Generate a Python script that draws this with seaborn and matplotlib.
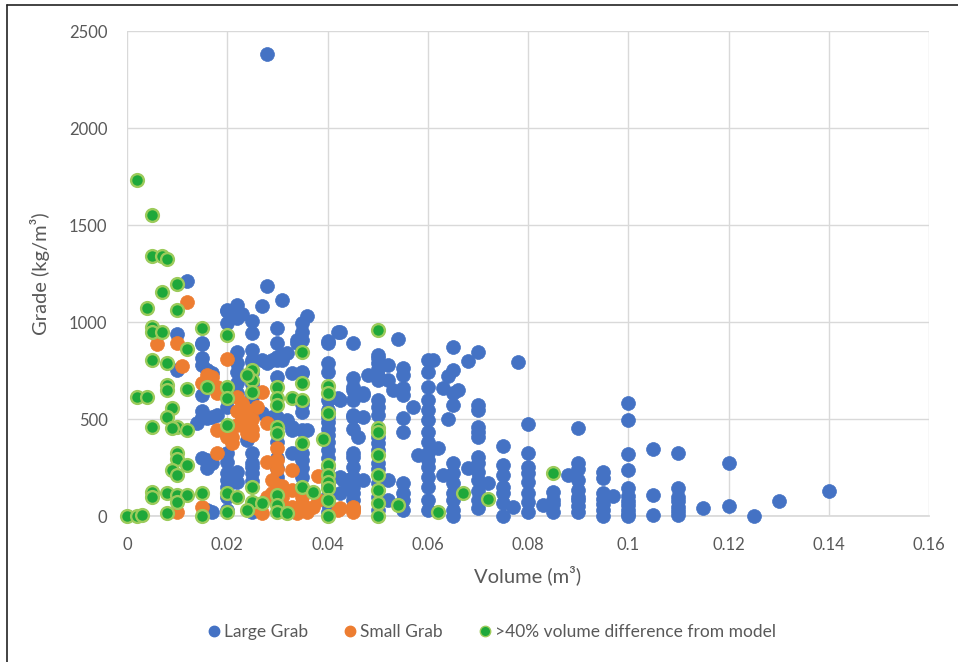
import matplotlib
matplotlib.use('Agg')
import matplotlib.pyplot as plt
import seaborn as sns
import pandas as pd
from matplotlib.lines import Line2D

# Volume (m3), Grade (kg/m3) pairs
large_grab = [
    (0.028, 2380), (0.14, 130), (0.13, 80), (0.125, 0), (0.12, 273), (0.12, 53), (0.115, 41),
    (0.11, 326), (0.11, 144), (0.11, 100), (0.11, 75), (0.11, 48), (0.11, 25), (0.11, 5),
    (0.105, 345), (0.105, 108), (0.105, 5),
    (0.1, 584), (0.1, 495), (0.1, 320), (0.1, 237), (0.1, 144), (0.1, 105), (0.1, 80), (0.1, 55), (0.1, 30), (0.1, 10), (0.1, 0),
    (0.097, 105),
    (0.095, 228), (0.095, 196), (0.095, 118), (0.095, 90), (0.095, 60), (0.095, 30), (0.095, 0),
    (0.09, 453), (0.09, 275), (0.09, 240), (0.09, 185), (0.09, 134), (0.09, 100), (0.09, 82), (0.09, 50), (0.09, 22),
    (0.088, 211),
    (0.085, 125), (0.085, 82), (0.085, 60), (0.085, 22), (0.083, 57),
    (0.08, 474), (0.08, 326), (0.08, 254), (0.08, 220), (0.08, 177), (0.08, 117), (0.08, 74), (0.08, 22),
    (0.078, 796), (0.077, 48),
    (0.075, 361), (0.075, 263), (0.075, 211), (0.075, 150), (0.075, 118), (0.075, 67), (0.075, 0),
    (0.072, 170),
    (0.07, 847), (0.07, 572), (0.07, 546), (0.07, 460), (0.07, 435), (0.07, 409), (0.07, 306), (0.07, 271),
    (0.07, 228), (0.07, 185), (0.07, 130), (0.07, 82), (0.07, 41),
    (0.068, 800), (0.068, 247), (0.066, 650),
    (0.065, 873), (0.065, 753), (0.065, 634), (0.065, 572), (0.065, 272), (0.065, 221), (0.065, 170),
    (0.065, 120), (0.065, 82), (0.065, 31), (0.065, 0),
    (0.064, 722), (0.064, 500), (0.063, 658), (0.063, 211), (0.062, 349), (0.061, 804),
    (0.06, 804), (0.06, 744), (0.06, 667), (0.06, 598), (0.06, 546), (0.06, 495), (0.06, 435), (0.06, 380),
    (0.06, 325), (0.06, 290), (0.06, 254), (0.06, 203), (0.06, 151), (0.06, 82), (0.06, 31),
    (0.058, 314), (0.057, 564),
    (0.055, 761), (0.055, 727), (0.055, 660), (0.055, 624), (0.055, 505), (0.055, 433), (0.055, 170),
    (0.055, 120), (0.055, 82), (0.055, 31),
    (0.054, 911), (0.053, 650), (0.052, 778), (0.052, 701), (0.052, 185), (0.052, 82),
    (0.05, 830), (0.05, 813), (0.05, 787), (0.05, 760), (0.05, 720), (0.05, 701), (0.05, 598), (0.05, 560),
    (0.05, 521), (0.05, 409), (0.05, 375), (0.05, 340), (0.05, 273), (0.05, 240), (0.05, 170), (0.05, 100), (0.05, 30),
    (0.048, 727), (0.047, 632), (0.047, 624), (0.047, 512), (0.047, 185), (0.046, 409),
    (0.045, 890), (0.045, 710), (0.045, 667), (0.045, 650), (0.045, 600), (0.045, 521), (0.045, 512), (0.045, 450),
    (0.045, 323), (0.045, 306), (0.045, 254), (0.045, 203), (0.045, 151), (0.045, 118), (0.045, 82), (0.045, 40),
    (0.044, 185), (0.044, 151), (0.043, 185),
    (0.0425, 947), (0.0425, 598), (0.0425, 203), (0.0425, 118),
    (0.042, 950), (0.042, 607),
    (0.04, 902), (0.04, 890), (0.04, 787), (0.04, 744), (0.04, 598), (0.04, 546), (0.04, 512), (0.04, 486),
    (0.04, 450), (0.04, 420), (0.04, 380), (0.04, 340), (0.04, 300), (0.04, 254), (0.04, 200), (0.04, 160),
    (0.04, 110), (0.04, 60), (0.04, 20),
    (0.036, 1032), (0.036, 443),
    (0.035, 993), (0.035, 950), (0.035, 907), (0.035, 744), (0.035, 735), (0.035, 580), (0.035, 538), (0.035, 443),
    (0.035, 323), (0.035, 289), (0.035, 250), (0.035, 200),
    (0.034, 907), (0.034, 890), (0.034, 323),
    (0.033, 735), (0.033, 460), (0.033, 443), (0.033, 323),
    (0.032, 839), (0.032, 495),
    (0.031, 1113), (0.031, 830), (0.031, 804),
    (0.03, 971), (0.03, 890), (0.03, 821), (0.03, 804), (0.03, 718), (0.03, 512), (0.03, 380), (0.03, 300),
    (0.03, 250), (0.03, 200),
    (0.029, 804), (0.029, 512), (0.028, 1186), (0.028, 789),
    (0.027, 1084), (0.027, 804), (0.027, 529),
    (0.025, 1007), (0.025, 942), (0.025, 856), (0.025, 804), (0.025, 793), (0.025, 735), (0.025, 680), (0.025, 632),
    (0.025, 615), (0.025, 529), (0.025, 323), (0.025, 271), (0.025, 254), (0.025, 220), (0.025, 180), (0.025, 60), (0.025, 20),
    (0.024, 392), (0.023, 1041),
    (0.022, 1088), (0.022, 1019), (0.022, 847), (0.022, 787), (0.022, 744), (0.022, 684), (0.022, 632), (0.022, 228), (0.022, 177),
    (0.02, 1062), (0.02, 1058), (0.02, 993), (0.02, 560), (0.02, 420), (0.02, 323), (0.02, 280), (0.02, 220),
    (0.02, 185), (0.02, 151), (0.02, 100), (0.02, 31),
    (0.018, 521), (0.017, 735), (0.017, 512), (0.017, 271), (0.017, 22),
    (0.016, 753), (0.016, 504), (0.016, 289), (0.016, 246), (0.016, 31),
    (0.015, 890), (0.015, 885), (0.015, 813), (0.015, 778), (0.015, 624), (0.015, 540), (0.015, 512), (0.015, 297),
    (0.014, 478), (0.012, 1213), (0.01, 937), (0.01, 753),
]

small_grab = [
    (0.012, 1104), (0.006, 887), (0.01, 890), (0.011, 773), (0.015, 684), (0.016, 727), (0.017, 718), (0.018, 667),
    (0.018, 632), (0.02, 809), (0.022, 615), (0.023, 581), (0.024, 546), (0.024, 495), (0.023, 469), (0.018, 443),
    (0.02, 409), (0.021, 409), (0.021, 375), (0.018, 323), (0.023, 512), (0.025, 418), (0.028, 478), (0.03, 349),
    (0.03, 289), (0.028, 280), (0.029, 185), (0.031, 155), (0.033, 134), (0.031, 98), (0.031, 57), (0.033, 46),
    (0.035, 67), (0.037, 46), (0.038, 82), (0.04, 82), (0.042, 31), (0.045, 31), (0.038, 206), (0.033, 237),
    (0.034, 15), (0.027, 15), (0.036, 20), (0.045, 48), (0.0425, 40), (0.045, 22), (0.015, 48), (0.01, 19),
    (0.027, 641), (0.026, 560), (0.025, 450), (0.029, 120), (0.032, 30), (0.03, 160), (0.026, 40), (0.028, 100),
    (0.022, 540), (0.024, 430), (0.03, 240), (0.035, 100), (0.022, 470), (0.025, 500), (0.023, 540),
]

vol_diff_40 = [
    (0.002, 1732), (0.005, 1552), (0.005, 1340), (0.007, 1340), (0.008, 1325), (0.01, 1196), (0.007, 1153),
    (0.004, 1070), (0.01, 1062), (0.005, 976), (0.005, 950), (0.007, 947), (0.015, 967), (0.012, 859),
    (0.005, 804), (0.008, 787), (0.008, 675), (0.008, 650), (0.012, 653), (0.002, 612), (0.004, 612),
    (0.016, 667), (0.009, 555), (0.008, 512), (0.01, 460), (0.012, 443), (0.005, 457), (0.009, 452),
    (0.01, 323), (0.01, 296), (0.012, 263), (0.009, 237), (0.01, 211),
    (0.005, 125), (0.005, 100), (0.008, 117), (0.01, 108), (0.012, 108), (0.01, 74), (0.015, 117),
    (0.0, 0), (0.002, 0), (0.003, 5), (0.008, 14), (0.015, 0),
    (0.02, 933), (0.035, 847), (0.05, 959), (0.02, 663), (0.02, 607), (0.025, 753), (0.025, 701), (0.025, 641),
    (0.024, 727), (0.03, 667), (0.03, 607), (0.03, 572), (0.033, 607), (0.035, 684), (0.035, 598),
    (0.04, 670), (0.04, 632), (0.04, 529), (0.05, 452), (0.02, 469), (0.03, 460), (0.03, 426), (0.035, 375),
    (0.039, 395), (0.04, 263), (0.04, 211), (0.04, 177), (0.04, 142), (0.04, 82), (0.04, 0),
    (0.02, 117), (0.022, 100), (0.025, 151), (0.025, 74), (0.024, 31), (0.02, 22), (0.027, 65),
    (0.03, 108), (0.03, 57), (0.03, 22), (0.032, 14), (0.035, 151), (0.037, 125),
    (0.05, 435), (0.05, 314), (0.05, 211), (0.05, 134), (0.05, 65), (0.05, 0),
    (0.054, 57), (0.062, 22), (0.067, 117), (0.072, 88), (0.085, 220),
]

x_ticks = [0, 0.02, 0.04, 0.06, 0.08, 0.1, 0.12, 0.14, 0.16]
x_tick_labels = ['0', '0.02', '0.04', '0.06', '0.08', '0.1', '0.12', '0.14', '0.16']
y_ticks = [0, 500, 1000, 1500, 2000, 2500]

series_names = ['Large Grab', 'Small Grab', '>40% volume difference from model']

large_df = pd.DataFrame(large_grab, columns=['volume', 'grade'])
small_df = pd.DataFrame(small_grab, columns=['volume', 'grade'])
diff_df = pd.DataFrame(vol_diff_40, columns=['volume', 'grade'])

sns.set_theme(style='white')
plt.rcParams['font.family'] = ['Lato', 'DejaVu Sans']

blue = '#4472C4'
orange = '#ED7D31'
green_fill = '#1EA83A'
green_edge = '#9CCB5B'
text_grey = '#595959'
grid_grey = '#D9D9D9'

fig = plt.figure(figsize=(9.58, 6.62), dpi=100)
ax = fig.add_axes([0.1326, 0.2205, 0.8372, 0.7326])

sns.scatterplot(ax=ax, data=large_df, x='volume', y='grade', color=blue,
                edgecolor=blue, linewidth=0.5, s=100, clip_on=False, zorder=3)
sns.scatterplot(ax=ax, data=small_df, x='volume', y='grade', color=orange,
                edgecolor=orange, linewidth=0.5, s=100, clip_on=False, zorder=4)
sns.scatterplot(ax=ax, data=diff_df, x='volume', y='grade', color=green_fill,
                edgecolor=green_edge, linewidth=1.7, s=85, clip_on=False, zorder=5)

ax.set_xlim(0, 0.16)
ax.set_ylim(0, 2500)
ax.set_xticks(x_ticks)
ax.set_xticklabels(x_tick_labels)
ax.set_yticks(y_ticks)
ax.grid(True, color=grid_grey, linewidth=1)
ax.set_axisbelow(True)
for side in ['top', 'right', 'left']:
    ax.spines[side].set_visible(False)
ax.spines['bottom'].set_color(grid_grey)
ax.tick_params(axis='x', length=5, color=grid_grey, labelsize=12, labelcolor=text_grey, pad=10)
ax.tick_params(axis='y', length=0, labelsize=12, labelcolor=text_grey, pad=14)

ax.set_xlabel('Volume (m³)', fontsize=14.5, color=text_grey, labelpad=9)
ax.set_ylabel('Grade (kg/m³)', fontsize=14.5, color=text_grey, labelpad=14)

handles = [
    Line2D([], [], marker='o', linestyle='', markersize=7.5, markerfacecolor=blue, markeredgecolor=blue),
    Line2D([], [], marker='o', linestyle='', markersize=7.5, markerfacecolor=orange, markeredgecolor=orange),
    Line2D([], [], marker='o', linestyle='', markersize=7.5, markerfacecolor=green_fill, markeredgecolor=green_edge),
]
fig.legend(handles, series_names, loc='center', bbox_to_anchor=(0.512, 0.045), ncol=3,
           frameon=False, fontsize=12.5, handletextpad=0.1, columnspacing=1.9,
           labelcolor=text_grey, handlelength=1.0)

# thin frame around the chart, like the original screenshot
fig.add_artist(Line2D([7 / 958, 7 / 958], [0, 1 - 5 / 662], color='#222222', linewidth=1.2))
fig.add_artist(Line2D([7 / 958, 1], [1 - 5 / 662, 1 - 5 / 662], color='#222222', linewidth=1.2))

fig.savefig('out.png', dpi=100)
plt.close()
